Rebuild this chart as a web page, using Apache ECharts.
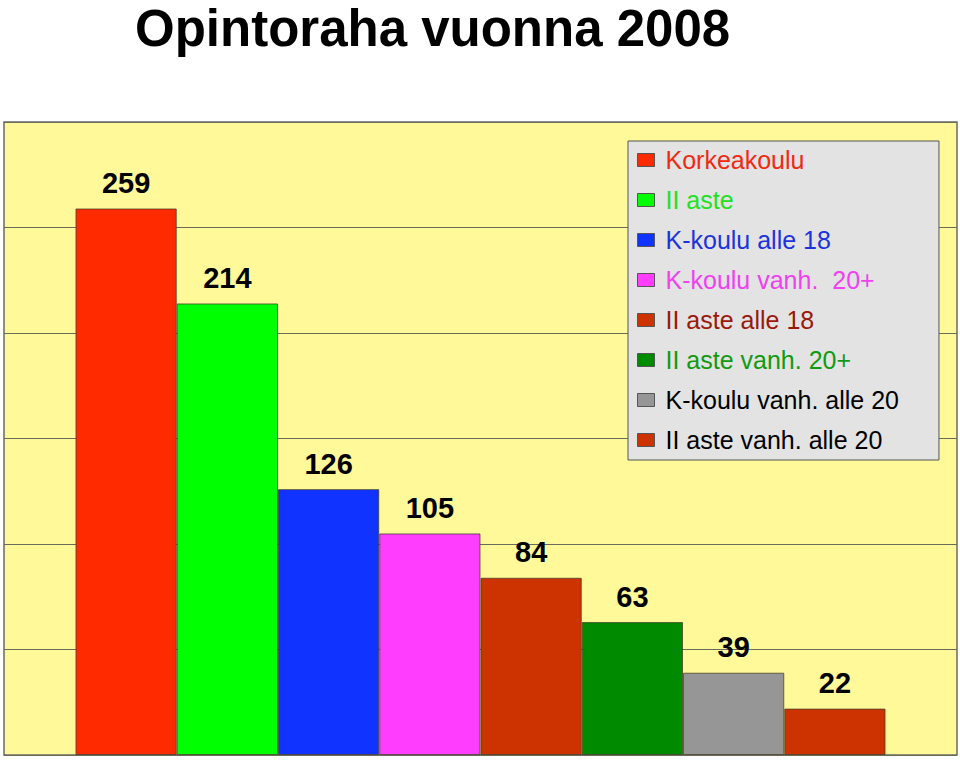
<!DOCTYPE html>
<html>
<head>
<meta charset="utf-8">
<script src="https://cdn.jsdelivr.net/npm/echarts@6/dist/echarts.min.js"></script>
<style>
html,body{margin:0;padding:0;background:#fff;}
#chart{width:960px;height:762px;}
</style>
</head>
<body>
<div id="chart"></div>
<script>
const titleText = 'Opintoraha vuonna 2008';
const seriesNames = ['Korkeakoulu', 'II aste', 'K-koulu alle 18', 'K-koulu vanh.  20+', 'II aste alle 18', 'II aste vanh. 20+', 'K-koulu vanh. alle 20', 'II aste vanh. alle 20'];
const seriesValues = [259, 214, 126, 105, 84, 63, 39, 22];
const barColors = ['#FF2A00', '#00FF00', '#1133FF', '#FF3DFF', '#CC3300', '#008A00', '#969696', '#CC3300'];
const legendTextColors = ['#F02A10', '#22E022', '#1A33DD', '#F040F0', '#991A0A', '#119A11', '#000000', '#000000'];
const yTicks = { min: 0, max: 300, interval: 50 };

const chart = echarts.init(document.getElementById('chart'), null, { renderer: 'svg' });

const series = seriesNames.map((name, i) => ({
  name: name,
  type: 'bar',
  data: [seriesValues[i]],
  barGap: '0%',
  barCategoryGap: '15%',
  itemStyle: { color: barColors[i], borderColor: 'rgba(70,60,40,0.75)', borderWidth: 1 },
  label: {
    show: true, position: 'top', distance: 11,
    color: '#000', fontSize: 29, fontWeight: 'bold',
    fontFamily: 'Liberation Sans, Arial, sans-serif'
  }
}));

chart.setOption({
  animation: false,
  title: {
    text: titleText, left: 135, top: 3, padding: 0,
    textStyle: { fontSize: 51, fontWeight: 'bold', color: '#000', fontFamily: 'Liberation Sans, Arial, sans-serif' }
  },
  grid: {
    left: 4, top: 122, right: 3, bottom: 7,
    show: true, backgroundColor: '#FFF99A', borderColor: '#6a6a6a', borderWidth: 1.5
  },
  legend: {
    orient: 'vertical', left: 628, top: 141,
    padding: [6, 40, 7, 9],
    itemGap: 14, itemWidth: 17, itemHeight: 13,
    backgroundColor: '#E3E3E3', borderColor: '#555', borderWidth: 1,
    icon: 'rect',
    itemStyle: { borderColor: '#555', borderWidth: 1 },
    textStyle: { fontSize: 25, lineHeight: 26, fontFamily: 'Liberation Sans, Arial, sans-serif', padding: [0, 0, 0, 6] },
    data: seriesNames.map((n, i) => ({ name: n, textStyle: { color: legendTextColors[i] } }))
  },
  xAxis: {
    type: 'category', data: [''],
    axisLine: { show: false }, axisTick: { show: false }, axisLabel: { show: false }
  },
  yAxis: {
    type: 'value', min: yTicks.min, max: yTicks.max, interval: yTicks.interval,
    axisLabel: { show: false }, axisLine: { show: false }, axisTick: { show: false },
    splitLine: { lineStyle: { color: '#6b6b5a', width: 1 } }
  },
  series: series
});
</script>
</body>
</html>
